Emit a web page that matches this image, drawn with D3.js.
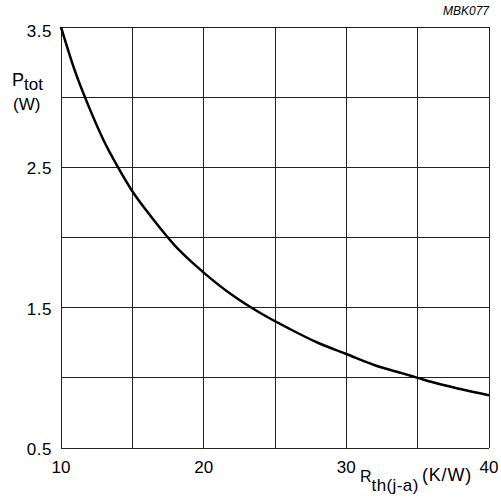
<!DOCTYPE html>
<html>
<head>
<meta charset="utf-8">
<style>
  body { margin: 0; background: #fff; }
  text { font-family: "Liberation Sans", Arial, sans-serif; fill: #000; }
</style>
</head>
<body>
<script src="https://cdn.jsdelivr.net/npm/d3@7"></script>
<script>
// values
var rth = [10, 11, 12, 13, 14, 15, 16, 17, 18, 19, 20, 22, 24, 26, 28, 30, 32, 34, 35, 36, 38, 40];
var ptot = [3.5, 3.18, 2.92, 2.69, 2.5, 2.33, 2.19, 2.06, 1.94, 1.84, 1.75, 1.59, 1.46, 1.35, 1.25, 1.17, 1.09, 1.03, 1.0, 0.97, 0.92, 0.875];
var xTicks = [10, 20, 30, 40];
var yTicks = [0.5, 1.5, 2.5, 3.5];
var xGrid = [10, 15, 20, 25, 30, 35, 40];
var yGrid = [0.5, 1.0, 1.5, 2.0, 2.5, 3.0, 3.5];

var width = 501, height = 501;
var margin = {top: 27, right: 12, bottom: 53, left: 61};

var svg = d3.select("body").append("svg")
  .attr("width", width).attr("height", height);

var x = d3.scaleLinear().domain([10, 40]).range([margin.left, width - margin.right]);
var y = d3.scaleLinear().domain([0.5, 3.5]).range([height - margin.bottom, margin.top]);

// grid
svg.append("g").selectAll("line").data(xGrid).enter().append("line")
  .attr("x1", d => x(d)).attr("x2", d => x(d))
  .attr("y1", y(0.5)).attr("y2", y(3.5))
  .attr("stroke", "#222").attr("stroke-width", 1).attr("shape-rendering", "crispEdges");
svg.append("g").selectAll("line").data(yGrid).enter().append("line")
  .attr("x1", x(10)).attr("x2", x(40))
  .attr("y1", d => y(d)).attr("y2", d => y(d))
  .attr("stroke", "#222").attr("stroke-width", 1).attr("shape-rendering", "crispEdges");

// tick labels
svg.append("g").selectAll("text").data(yTicks).enter().append("text")
  .attr("x", x(10) - 9).attr("y", d => d == 3.5 ? y(d) + 10 : y(d) + 7)
  .attr("text-anchor", "end").attr("font-size", 17).attr("letter-spacing", 0.5)
  .text(d => d.toFixed(1));
svg.append("g").selectAll("text").data(xTicks).enter().append("text")
  .attr("x", d => x(d)).attr("y", y(0.5) + 25)
  .attr("text-anchor", "middle").attr("font-size", 17)
  .text(d => d);

// curve
var line = d3.line().x(d => x(d[0])).y(d => y(d[1])).curve(d3.curveMonotoneX);
svg.append("path").datum(d3.zip(rth, ptot))
  .attr("d", line).attr("fill", "none")
  .attr("stroke", "#000").attr("stroke-width", 2.5);

// axis titles
var yl = svg.append("text").attr("x", 12).attr("y", 86).attr("font-size", 18);
yl.append("tspan").text("P");
yl.append("tspan").attr("font-size", 17).attr("dy", 4).text("tot");
svg.append("text").attr("x", 13).attr("y", 110).attr("font-size", 17).text("(W)");

var xl = svg.append("text").attr("x", 360).attr("y", 482).attr("font-size", 16);
xl.append("tspan").text("R");
xl.append("tspan").attr("font-size", 17).attr("letter-spacing", 0.4).attr("dy", 9).text("th(j-a)");
xl.append("tspan").attr("font-size", 18).attr("letter-spacing", 0.8)
  .attr("x", 422).attr("dy", -10).text("(K/W)");

svg.append("text").attr("x", x(40)).attr("y", 15)
  .attr("text-anchor", "end").attr("font-size", 12).attr("font-style", "italic")
  .text("MBK077");
</script>
</body>
</html>
